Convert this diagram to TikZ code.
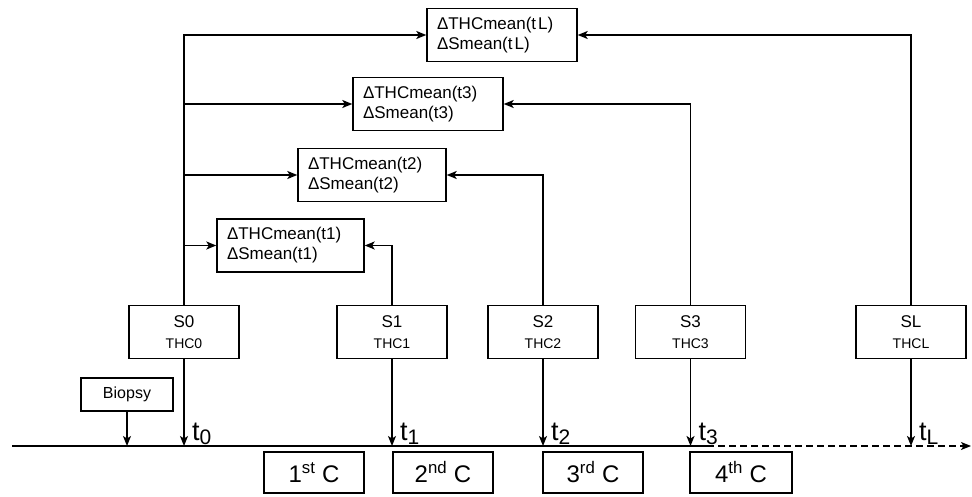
\documentclass[tikz,border=0pt]{standalone}
\usepackage{fontspec}
\setmainfont{Liberation Sans}
\usepackage{tikz}
\usetikzlibrary{positioning,arrows.meta,calc}
\tikzset{
  dbox/.style ={rectangle, draw=black, line width=1.4pt, align=left, text width=127pt,
                inner xsep=10pt, minimum height=53pt, font=\fontsize{17}{20}\selectfont},
  sbox/.style ={rectangle, draw=black, line width=1.4pt, align=center, minimum width=110pt,
                minimum height=53pt, font=\fontsize{17}{20}\selectfont},
  bbox/.style ={rectangle, draw=black, line width=1.4pt, minimum width=92pt,
                minimum height=33pt, font=\fontsize{16}{18}\selectfont},
  cbox/.style ={rectangle, draw=black, line width=1.4pt, minimum width=100pt,
                minimum height=41pt, font=\fontsize{24}{26}\selectfont},
  tlab/.style ={anchor=south west, inner sep=1pt, font=\fontsize{27}{28}\selectfont},
  arr/.style  ={-{Stealth[length=10pt,width=8pt,inset=2.5pt]}, line width=1.4pt},
  darr/.style ={arr, dash pattern=on 7pt off 4pt},
}
\newcommand{\thc}[1]{{\fontsize{14}{16}\selectfont #1}}
\newcommand{\tsub}[1]{t\raisebox{-0.3ex}{\fontsize{21}{21}\selectfont #1}}
\begin{document}
\begin{tikzpicture}[x=1pt,y=-1pt]
  \useasboundingbox (0,0) rectangle (972,497);
  % difference boxes
  \node[dbox, text width=130pt] (dL) at (502,35)  {ΔTHCmean(t\kern2pt L)\\ΔSmean(t\kern2pt L)};
  \node[dbox, text width=130pt] (d3) at (428,104) {ΔTHCmean(t3)\\ΔSmean(t3)};
  \node[dbox, text width=128pt] (d2) at (372,175) {ΔTHCmean(t2)\\ΔSmean(t2)};
  \node[dbox] (d1) at (290.5,245.5) {ΔTHCmean(t1)\\ΔSmean(t1)};
  % scans
  \node[sbox] (s0) at (184,332)   {S0\\[1pt]\thc{THC0}};
  \node[sbox] (s1) at (392,332)   {S1\\[1pt]\thc{THC1}};
  \node[sbox] (s2) at (543,332)   {S2\\[1pt]\thc{THC2}};
  \node[sbox] (s3) at (690.5,332) {S3\\[1pt]\thc{THC3}};
  \node[sbox] (sL) at (911,332)   {SL\\[1pt]\thc{THCL}};
  \node[bbox] (bio) at (127,394.5) {Biopsy};
  % time axis
  \coordinate (ax0) at (12,446);
  \coordinate (ax1) at (707,446);
  \coordinate (ax2) at (971,446);
  \draw[line width=1.4pt] (ax0) -- (ax1);
  \draw[darr] (ax1) -- (ax2);
  % cycles
  \node[cbox] (c1) at (314,472.5) {1\textsuperscript{st} C};
  \node[cbox] (c2) at (443,472.5) {2\textsuperscript{nd} C};
  \node[cbox] (c3) at (593,472.5) {3\textsuperscript{rd} C};
  \node[cbox, minimum width=102pt] (c4) at (741,472.5) {4\textsuperscript{th} C};
  % baseline branch
  \draw[arr] (s0.north) |- (dL.west);
  \draw[arr] (s0.north |- d3.west) -- (d3.west);
  \draw[arr] (s0.north |- d2.west) -- (d2.west);
  \draw[arr] (s0.north |- d1.west) -- (d1.west);
  % follow-up branches
  \draw[arr] (s1.north) |- (d1.east);
  \draw[arr] (s2.north) |- (d2.east);
  \draw[arr] (s3.north) |- (d3.east);
  \draw[arr] (sL.north) |- (dL.east);
  % to time axis
  \draw[arr] (bio.south) -- (bio.south |- ax0);
  \foreach \s/\t in {s0/0, s1/1, s2/2, s3/3, sL/L} {
    \draw[arr] (\s.south) -- (\s.south |- ax0);
    \node[tlab] (t\t) at ([xshift=7pt]\s.south |- ax0) {\tsub{\t}};
  }
\end{tikzpicture}
\end{document}
